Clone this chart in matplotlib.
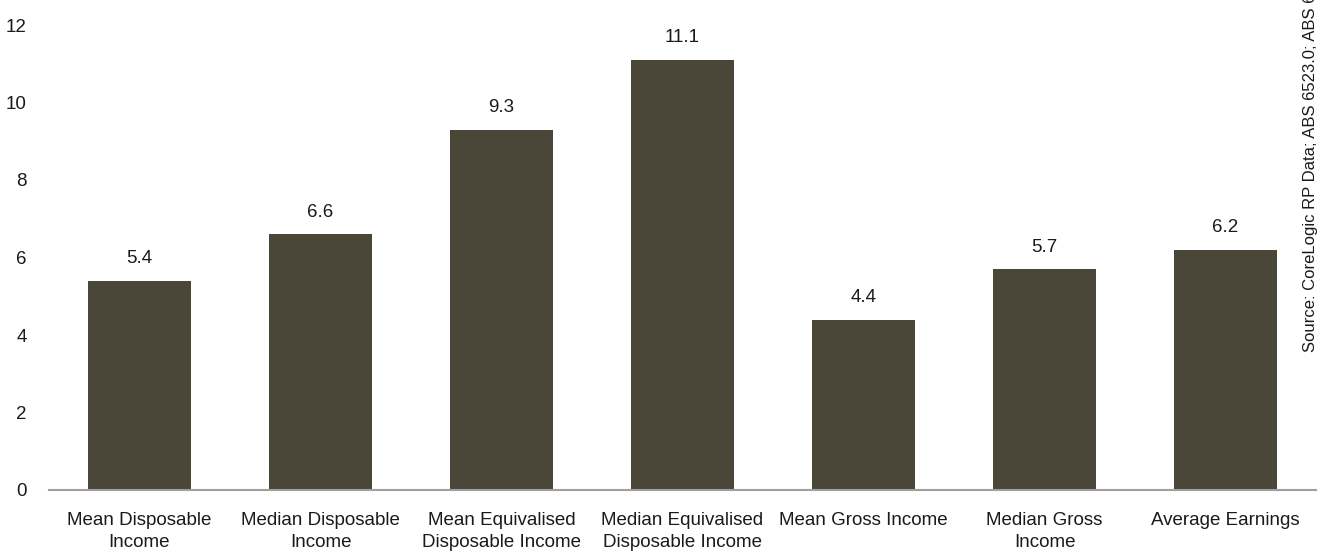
import matplotlib
matplotlib.use('Agg')
from matplotlib import pyplot as plt

categories = ['Mean Disposable\nIncome', 'Median Disposable\nIncome',
              'Mean Equivalised\nDisposable Income', 'Median Equivalised\nDisposable Income',
              'Mean Gross Income', 'Median Gross\nIncome', 'Average Earnings']
values = [5.4, 6.6, 9.3, 11.1, 4.4, 5.7, 6.2]
labels = ['5.4', '6.6', '9.3', '11.1', '4.4', '5.7', '6.2']
yticks = [0, 2, 4, 6, 8, 10, 12]
source = 'Source: CoreLogic RP Data; ABS 6523.0; ABS 6302.0'

plt.rcParams['font.family'] = ['Liberation Sans Narrow', 'Liberation Sans', 'DejaVu Sans']
fs = 13.5

fig = plt.figure(figsize=(13.24, 5.58), dpi=100)
ax = fig.add_axes([49/1324, 1 - 490/558, (1316-49)/1324, (490-25)/558])

x = range(len(values))
ax.bar(x, values, width=0.57, color='#4a4739')
for i, v in enumerate(values):
    ax.text(i, v + 0.35, labels[i], ha='center', va='bottom', fontsize=fs, color='#1a1a1a')

ax.set_xlim(-0.5, len(values) - 0.5)
ax.set_ylim(0, 12)
ax.set_yticks(yticks)
ax.set_yticklabels([str(t) for t in yticks], fontsize=fs)
ax.set_xticks(list(x))
ax.set_xticklabels(categories, fontsize=fs, linespacing=1.35)
ax.tick_params(axis='both', length=0, colors='#1a1a1a')
ax.tick_params(axis='x', pad=16)
ax.tick_params(axis='y', pad=16)
for s in ['top', 'right', 'left']:
    ax.spines[s].set_visible(False)
ax.spines['bottom'].set_color('#a0a0a0')
ax.spines['bottom'].set_linewidth(1.5)

fig.text(1311/1324, 1 - 352/558, source, rotation=90, ha='center', va='bottom',
         fontsize=12, color='#1a1a1a')

fig.savefig('out.png', dpi=100)
